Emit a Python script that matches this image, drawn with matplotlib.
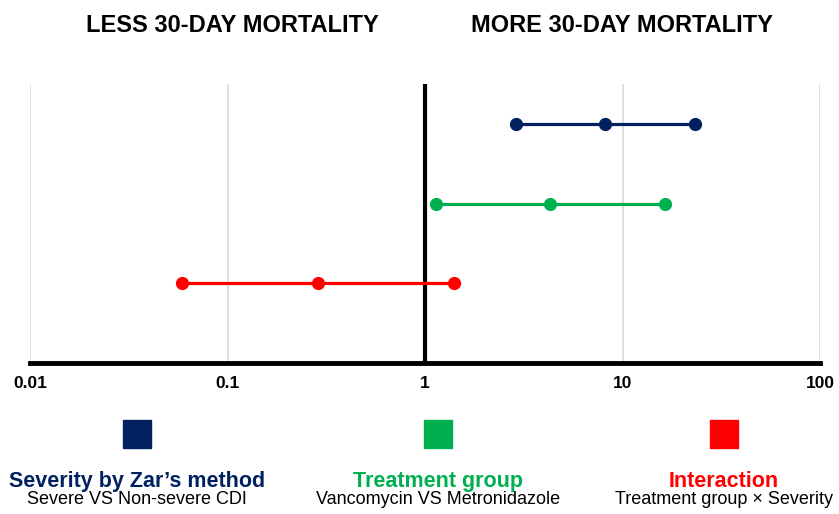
import matplotlib
matplotlib.use("Agg")
import matplotlib.pyplot as plt
from matplotlib.patches import Rectangle

plt.rcParams['font.family'] = ['Liberation Sans', 'DejaVu Sans']

labels = ["Severity by Zar\u2019s method", "Treatment group", "Interaction"]
sublabels = ["Severe VS Non-severe CDI", "Vancomycin VS Metronidazole", "Treatment group \u00d7 Severity"]
colors = ["#002060", "#00B050", "#FF0000"]
lower = [2.9, 1.14, 0.059]
point = [8.2, 4.3, 0.288]
upper = [23.3, 16.4, 1.41]
ypos = [3, 2, 1]
xticks = [0.01, 0.1, 1, 10, 100]
xticklabels = ["0.01", "0.1", "1", "10", "100"]

fig = plt.figure(figsize=(8.39, 5.14), dpi=100)
ax = fig.add_axes([30/839, 1-363/514, 790/839, (363-84)/514])
ax.set_xscale('log')
ax.set_xlim(0.01, 100)
ax.set_ylim(0, 3.5)

for xt in xticks:
    if xt != 1:
        ax.axvline(xt, color="#d9d9d9", lw=1.2, zorder=0)
ax.axvline(1, color="black", lw=3, zorder=1)

for lo, pt, up, y, c in zip(lower, point, upper, ypos, colors):
    ax.plot([lo, pt, up], [y, y, y], color=c, lw=2.3, marker='o', ms=8.5, zorder=3)

for s in ['top', 'right', 'left']:
    ax.spines[s].set_visible(False)
ax.spines['bottom'].set_linewidth(3.5)
ax.spines['bottom'].set_zorder(5)
ax.set_yticks([])
ax.set_xticks(xticks)
ax.set_xticklabels(xticklabels, fontsize=12.5, fontweight='bold')
ax.minorticks_off()
ax.tick_params(axis='x', length=0, pad=9)

fig.text(232/839, 1-31.5/514, "LESS 30-DAY MORTALITY", ha='center', va='baseline', fontsize=17, fontweight='bold')
fig.text(622/839, 1-31.5/514, "MORE 30-DAY MORTALITY", ha='center', va='baseline', fontsize=17, fontweight='bold')

centers = [137, 438, 724]
for cx, lab, sub, c in zip(centers, labels, sublabels, colors):
    fig.patches.append(Rectangle(((cx-14)/839, 1-448/514), 28/839, 28/514, transform=fig.transFigure, color=c))
    fig.text(cx/839, 1-487/514, lab, ha='center', va='baseline', fontsize=15.5, fontweight='bold', color=c)
    fig.text(cx/839, 1-503.5/514, sub, ha='center', va='baseline', fontsize=13, color='black')

fig.savefig("out.png", dpi=100)
